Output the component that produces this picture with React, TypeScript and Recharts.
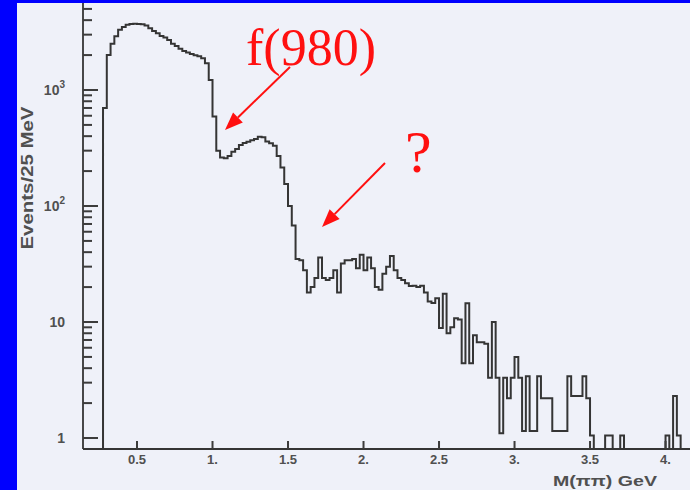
import React from 'react';
import { LineChart, Line, XAxis, YAxis } from 'recharts';

// Histogram: M(pi pi) in 25 MeV bins starting at 0.275 GeV
const firstEdge = 0.275;
const binWidth = 0.025;
const counts: number[] = [
  700, 2000, 2500, 2900, 3300, 3500, 3650, 3700, 3720, 3700,
  3680, 3600, 3400, 3230, 3080, 2920, 2840, 2700, 2510, 2390,
  2270, 2170, 2100, 2040, 1990, 1950, 1880, 1700, 1220, 590,
  300, 262, 258, 270, 294, 310, 336, 350, 358, 368,
  378, 396, 392, 360, 348, 330, 270, 215, 155, 100,
  68, 35, 34, 28, 18, 20, 24, 36, 24, 23,
  24, 28, 18, 32, 34, 34, 35, 29, 38, 28,
  36, 29, 20, 19, 26, 30, 37, 28, 24, 23,
  21.6, 20.4, 20.5, 20, 20.5, 18, 15, 14.6, 16, 8.9,
  17.5, 8, 9, 10.8, 10.5, 4.4, 14.5, 4.4, 7.7, 6.7,
  6.7, 6.5, 3.3, 10, 3.3, 1.1, 3.3, 2.2, 3.3, 5,
  3.3, 1.15, 3.4, 1.15, 1.15, 3.4, 2.2, 2.2, 2.2, 1.15,
  1.15, 1.15, 1.15, 3.4, 2.3, 2.3, 2.3, 3.4, 2.2, 1.05,
  0, 0, 0, 1.05, 1.05, 0, 0, 1.05, 0, 0,
  0, 0, 0, 0, 0, 0, 0, 0, 0, 1.05,
  0, 2.3, 1.05, 0, 0,
];

const xTickValues = [0.5, 1, 1.5, 2, 2.5, 3, 3.5, 4];
const xTickLabels = ['0.5', '1.', '1.5', '2.', '2.5', '3.', '3.5', '4.'];
const yDecades = [1, 10, 100, 1000];
const yDecadeBase = ['1', '10', '10', '10'];
const yDecadeSup = ['', '', '2', '3'];
const yMinorTicks = [2, 3, 4, 5, 6, 7, 8, 9, 20, 30, 40, 50, 60, 70, 80, 90, 200, 300, 400, 500, 600, 700, 800, 900, 2000, 3000, 4000, 5000];

const X_DOMAIN: [number, number] = [0.1424, 4.162];
const Y_DOMAIN: [number, number] = [0.804, 5623];
const FLOOR = Y_DOMAIN[0];

const rows: { m: number; n: number }[] = [];
rows.push({ m: firstEdge, n: FLOOR });
counts.forEach((c, i) => {
  rows.push({ m: +(firstEdge + i * binWidth).toFixed(4), n: c > 0 ? c : FLOOR });
});
rows.push({ m: +(firstEdge + counts.length * binWidth).toFixed(4), n: FLOOR });

const allYTicks = [...yDecades, ...yMinorTicks].sort((a, b) => a - b);

const INK = '#353535';
const TICK = '#3c3c3c';
const LABEL = '#505050';

const YTick = (props: any) => {
  const x = Number(props.x);
  const y = Number(props.y);
  const v = props.payload ? props.payload.value : 0;
  const di = yDecades.indexOf(v);
  const major = di >= 0;
  return (
    <g>
      <rect x={x} y={y - 1} width={major ? 15 : 9} height={2} fill={TICK} />
      {major && (
        <text
          x={x - 18}
          y={y + 5}
          textAnchor="end"
          fontFamily="Liberation Sans, Arial, sans-serif"
          fontWeight="bold"
          fontSize={14}
          fill={LABEL}
        >
          {yDecadeBase[di]}
          {yDecadeSup[di] && (
            <tspan fontSize={10} dy={-7}>
              {yDecadeSup[di]}
            </tspan>
          )}
        </text>
      )}
    </g>
  );
};

const XTick = (props: any) => {
  const x = Number(props.x);
  const y = Number(props.y);
  const idx = xTickValues.indexOf(props.payload ? props.payload.value : -1);
  return (
    <g>
      <rect x={x - 1} y={y - 8} width={2} height={8} fill={TICK} />
      <text
        x={x}
        y={y + 15}
        textAnchor="middle"
        fontFamily="Liberation Sans, Arial, sans-serif"
        fontWeight="bold"
        fontSize={13}
        fill={LABEL}
      >
        {idx >= 0 ? xTickLabels[idx] : ''}
      </text>
    </g>
  );
};

const Arrow = ({ x1, y1, x2, y2 }: { x1: number; y1: number; x2: number; y2: number }) => {
  const ang = Math.atan2(y2 - y1, x2 - x1);
  const len = 18;
  const half = 7;
  const bx = x2 - len * Math.cos(ang);
  const by = y2 - len * Math.sin(ang);
  const px = -Math.sin(ang) * half;
  const py = Math.cos(ang) * half;
  return (
    <g>
      <line x1={x1} y1={y1} x2={bx} y2={by} stroke="#ff1010" strokeWidth={2} />
      <polygon points={`${x2},${y2} ${bx + px},${by + py} ${bx - px},${by - py}`} fill="#ff1010" />
    </g>
  );
};

export default function App() {
  return (
    <div style={{ position: 'absolute', left: 0, top: 0, width: 690, height: 490, background: '#0000ff', overflow: 'hidden' }}>
      <div style={{ position: 'absolute', left: 17, top: 3, width: 673, height: 487, background: '#eff1f9' }} />
      <div style={{ position: 'absolute', left: 0, top: 0 }}>
        <LineChart width={690} height={490} data={rows} margin={{ top: 3, right: 0, bottom: 0, left: 0 }}>
          <XAxis
            dataKey="m"
            type="number"
            domain={X_DOMAIN}
            allowDataOverflow
            ticks={xTickValues}
            interval={0}
            height={41}
            tickSize={0}
            tickMargin={0}
            tickLine={false}
            axisLine={{ stroke: INK, strokeWidth: 1.8 }}
            tick={<XTick />}
          />
          <YAxis
            dataKey="n"
            type="number"
            scale="log"
            domain={Y_DOMAIN}
            allowDataOverflow
            ticks={allYTicks}
            interval={0}
            width={83}
            tickSize={0}
            tickMargin={0}
            tickLine={false}
            axisLine={{ stroke: INK, strokeWidth: 1.8 }}
            tick={<YTick />}
          />
          <Line
            type="stepAfter"
            dataKey="n"
            stroke={INK}
            strokeWidth={2}
            dot={false}
            isAnimationActive={false}
          />
        </LineChart>
      </div>
      <svg width={690} height={490} style={{ position: 'absolute', left: 0, top: 0, pointerEvents: 'none' }}>
        <text
          transform="translate(33,178) rotate(-90)"
          textAnchor="middle"
          fontFamily="Liberation Sans, Arial, sans-serif"
          fontWeight="bold"
          fontSize={16}
          fill={LABEL}
          textLength={143}
          lengthAdjust="spacingAndGlyphs"
        >
          Events/25 MeV
        </text>
        <text
          x={553}
          y={486}
          fontFamily="Liberation Sans, Arial, sans-serif"
          fontWeight="bold"
          fontSize={15}
          fill={LABEL}
          textLength={104}
          lengthAdjust="spacingAndGlyphs"
        >
          M(ππ)  GeV
        </text>
        <text x={246} y={65} fontFamily="Liberation Serif, Times New Roman, serif" fontSize={52} fill="#ff1010">
          f(980)
        </text>
        <text x={405} y={172} fontFamily="Liberation Serif, Times New Roman, serif" fontSize={60} fill="#ff1010">
          ?
        </text>
        <Arrow x1={290} y1={67} x2={225} y2={130} />
        <Arrow x1={385} y1={163} x2={322} y2={227} />
      </svg>
    </div>
  );
}
